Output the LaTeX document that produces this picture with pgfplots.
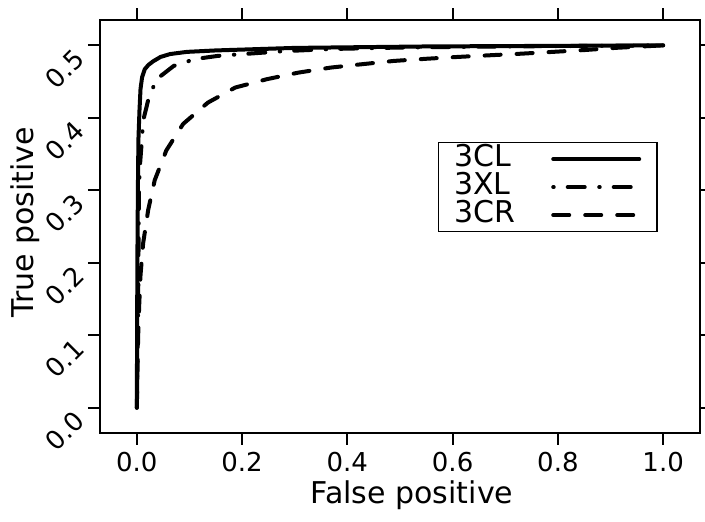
\documentclass[border=0pt]{standalone}
\usepackage{fontspec}
\setmainfont{DejaVu Sans}
\usepackage{pgfplots}
\pgfplotsset{compat=1.18}
\begin{document}
\begin{tikzpicture}
\begin{axis}[
  at={(0pt,0pt)}, anchor=south west,
  width=600pt, height=413pt, scale only axis,
  xmin=-0.07, xmax=1.07, ymin=-0.035, ymax=0.535,
  xtick={0,0.2,0.4,0.6,0.8,1.0},
  ytick={0,0.1,0.2,0.3,0.4,0.5},
  xtick pos=both, ytick pos=both,
  xticklabel pos=left, yticklabel pos=left,
  tick align=outside,
  major tick length=12pt,
  every tick/.style={black, line width=2pt},
  axis line style={line width=1.5pt},
  /pgf/number format/assume math mode=true,
  /pgf/number format/fixed,
  /pgf/number format/fixed zerofill,
  /pgf/number format/precision=1,
  ticklabel style={font=\fontsize{26}{30}\selectfont},
  xticklabel style={anchor=north, yshift=-4pt},
  yticklabel style={rotate=45, anchor=center, xshift=-33pt},
  xlabel={False positive},
  ylabel={True positive},
  label style={font=\fontsize{30}{32}\selectfont},
  xlabel style={at={(axis description cs:0.52,0)}, anchor=north, yshift=-44pt},
  ylabel style={at={(axis description cs:-0.125,0.51)}, anchor=center, rotate=0},
  legend plot pos=right,
  legend cell align=left,
  legend image code/.code={\draw[#1] (0pt,0pt) -- (86pt,0pt);},
  legend style={at={(0.93,0.705)}, anchor=north east, draw=black, line width=1.5pt,
    font=\fontsize{30}{30}\selectfont, inner xsep=16pt, inner ysep=2.5pt, row sep=0pt,
    /tikz/every odd column/.append style={column sep=36pt},
    nodes={inner sep=0pt, text height=21pt, text depth=7pt}},
]
\addplot[black, line width=4pt, line cap=round, line join=round] coordinates {
(0,0) (0.0005,0.1) (0.001,0.2) (0.002,0.3) (0.003,0.37) (0.005,0.41) (0.007,0.44) (0.01,0.456) (0.015,0.467) (0.022,0.473) (0.031,0.478) (0.045,0.484) (0.063,0.488) (0.095,0.491) (0.15,0.493) (0.3,0.4965) (0.55,0.4985) (1.0,0.5)
};
\addlegendentry{3CL}
\addplot[black, line width=4pt, line cap=round, line join=round, dash pattern=on 0.5pt off 14pt on 17pt off 14.5pt] coordinates {
(0,0) (0.002,0.1) (0.003,0.2) (0.004,0.3) (0.0057,0.332) (0.009,0.364) (0.012,0.396) (0.0216,0.4245) (0.037,0.453) (0.07,0.4716) (0.11,0.481) (0.152,0.4853) (0.196,0.4877) (0.28,0.492) (0.37,0.495) (0.5,0.497) (0.7,0.4985) (1.0,0.5)
};
\addlegendentry{3XL}
\addplot[black, line width=4pt, line cap=round, line join=round, dash pattern=on 16pt off 16pt] coordinates {
(0,0) (0.0025,0.099) (0.0044,0.14) (0.007,0.183) (0.012,0.227) (0.0216,0.273) (0.034,0.314) (0.056,0.355) (0.088,0.3916) (0.135,0.421) (0.187,0.4418) (0.247,0.4533) (0.307,0.4624) (0.368,0.4693) (0.428,0.474) (0.488,0.4785) (0.55,0.4815) (0.609,0.484) (0.67,0.4863) (0.73,0.4885) (0.79,0.491) (0.85,0.4935) (0.913,0.4967) (1.0,0.5)
};
\addlegendentry{3CR}
\end{axis}
\pgfresetboundingbox
\path[use as bounding box] (-100pt,-89pt) rectangle (605pt,433pt);
\end{tikzpicture}
\end{document}
